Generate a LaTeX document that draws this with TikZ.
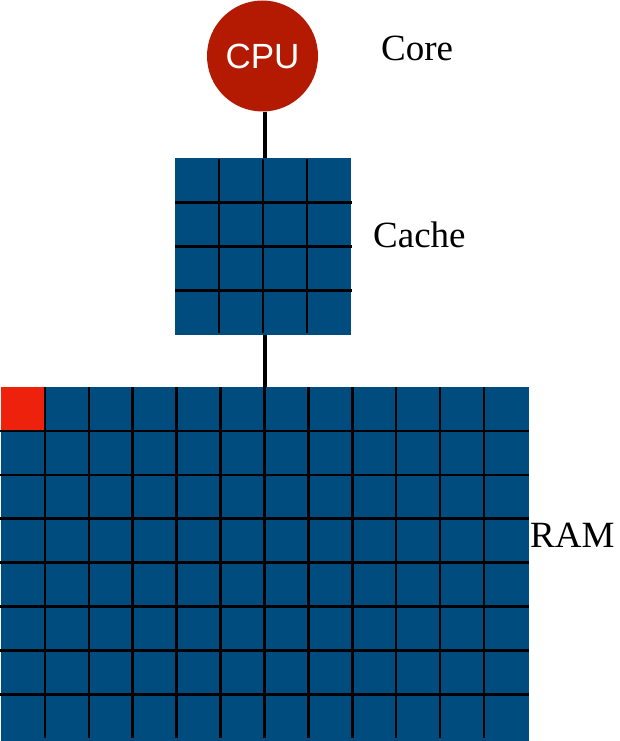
\documentclass[tikz,border=0pt]{standalone}
\usepackage{fontspec}
\setmainfont{Liberation Serif}
\newfontfamily\cpufont{Liberation Sans}
\definecolor{memblue}{RGB}{1,76,126}
\definecolor{cpured}{RGB}{180,26,2}
\definecolor{hotcell}{RGB}{238,34,12}
\tikzset{
  cpunode/.style={circle, fill=cpured, minimum size=111pt, inner sep=0pt,
    text=white, font=\cpufont\fontsize{35}{38}\selectfont},
  memblock/.style={rectangle, fill=memblue, inner sep=0pt, outer sep=0pt},
  gridline/.style={black, line width=2.6pt},
  link/.style={black, line width=4pt},
  tag/.style={anchor=base west, inner sep=0pt, font=\fontsize{37}{40}\selectfont}
}
\begin{document}
\begin{tikzpicture}[x=1pt, y=-1pt]
  \useasboundingbox (0,0) rectangle (619,741);

  % processor
  \node[cpunode] (cpu) at (262.5,56) {CPU};
  \node[tag] (corelabel) at (381,61) {Core};

  % cache: 4 x 4 lines
  \node[memblock, minimum width=176pt, minimum height=177pt] (cache) at (263,246.5) {};
  \foreach \i in {1,2,3} {
    \draw[gridline] (175+44*\i,159) -- (175+44*\i,333);
    \draw[gridline] (175,158+44.2*\i) -- (352,158+44.2*\i);
  }
  \node[tag] (cachelabel) at (373,247) {Cache};

  % main memory: 12 x 8 lines, first one highlighted
  \node[memblock, minimum width=528pt, minimum height=354pt] (ram) at (265,564) {};
  \fill[hotcell] (1,387) rectangle (45,431);
  \foreach \i in {1,...,11}
    \draw[gridline] (1+43.9*\i,387) -- (1+43.9*\i,738);
  \foreach \j in {1,...,7}
    \draw[gridline] (0,387+43.9*\j) -- (529,387+43.9*\j);
  \node[tag] (ramlabel) at (530,547) {RAM};

  % connections
  \coordinate (busx) at (264.5,0);
  \draw[link] (busx |- cpu.south) -- (busx |- cache.north);
  \draw[link] (busx |- cache.south) -- (busx |- ram.north);
\end{tikzpicture}
\end{document}
